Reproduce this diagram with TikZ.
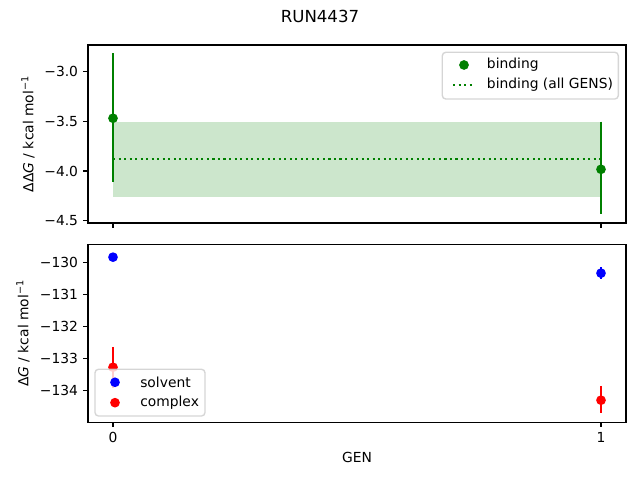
\documentclass[tikz,border=0pt]{standalone}
\usepackage{fontspec}
\setmainfont{DejaVu Sans}
\usepackage{tikz}

\definecolor{mplgreen}{HTML}{008000}
\definecolor{mplblue}{HTML}{0000FF}
\definecolor{mplred}{HTML}{FF0000}
\definecolor{legendedge}{HTML}{CCCCCC}

\tikzset{
  dot/.style={circle, fill=#1, inner sep=0pt, minimum size=7bp},
  errbar/.style={line width=1.5bp, #1},
  spine/.style={line width=0.8bp},
  tickmark/.style={line width=0.8bp},
  ticklabel/.style={inner sep=0pt},
  legendbox/.style={draw=legendedge, fill=white, opacity=0.8, rounded corners=2.5bp, line width=1bp},
  legendtext/.style={anchor=west, inner sep=0pt},
  mpldotted/.style={line width=1.5bp, dash pattern=on 1.5bp off 2.475bp},
}

\begin{document}
\begin{tikzpicture}[x=0.01in, y=0.01in, font=\fontsize{10}{12}\selectfont]
      \useasboundingbox (0,0) rectangle (640,480);
      \node (title) at (320,464) {\fontsize{12}{14}\selectfont RUN4437};

      % upper panel
      \begin{scope}[shift={(113,706.2)}, xscale=488, yscale=99.3]
        \fill [mplgreen, opacity=0.2] (0,-3.503) rectangle (1,-4.265);
        \draw [mplgreen, mpldotted] (0,-3.882) -- (1,-3.882);
        \draw [errbar=mplgreen] (0,-2.815) -- (0,-4.108);
        \draw [errbar=mplgreen] (1,-3.503) -- (1,-4.430);
        \node [dot=mplgreen] (bind0) at (0,-3.469) {};
        \node [dot=mplgreen] (bind1) at (1,-3.983) {};
      \end{scope}
      \draw [spine] (88,257) rectangle (626,435);
      \foreach \y/\lab [count=\i] in {408.3/−3.0, 358.65/−3.5, 309.0/−4.0, 259.35/−4.5} {
        \draw [tickmark] (88,\y) -- (83.14,\y);
        \node [ticklabel, anchor=east] (topy\i) at (78.3,\y) {\lab};
      }
      \draw [tickmark] (113,257) -- (113,252.14);
      \draw [tickmark] (601,257) -- (601,252.14);
      \node [rotate=90] (toplabel) at (28,346) {ΔΔ\textit{G} / kcal mol\textsuperscript{−1}};

      % upper legend
      \draw [legendbox] (442.3,381) rectangle (618.3,427.7);
      \node [dot=mplgreen] (legbind) at (464,415) {};
      \node [legendtext] (legbindtext) at (486.7,415) {binding};
      \draw [mplgreen, mpldotted] (453,395) -- (475,395);
      \node [legendtext] (legalltext) at (486.7,395) {binding (all GENS)};

      % lower panel
      \begin{scope}[shift={(113,4377.7)}, xscale=488, yscale=32]
        \draw [errbar=mplblue] (1,-130.16) -- (1,-130.52);
        \draw [errbar=mplred] (0,-132.64) -- (0,-133.92);
        \draw [errbar=mplred] (1,-133.86) -- (1,-134.72);
        \node [dot=mplblue] (solv0) at (0,-129.84) {};
        \node [dot=mplblue] (solv1) at (1,-130.34) {};
        \node [dot=mplred] (comp0) at (0,-133.28) {};
        \node [dot=mplred] (comp1) at (1,-134.31) {};
      \end{scope}
      \draw [spine] (88,57.7) rectangle (626,235.7);
      \foreach \y/\lab [count=\i] in {217.7/−130, 185.7/−131, 153.7/−132, 121.7/−133, 89.7/−134} {
        \draw [tickmark] (88,\y) -- (83.14,\y);
        \node [ticklabel, anchor=east] (boty\i) at (78.3,\y) {\lab};
      }
      \foreach \x/\lab in {113/0, 601/1} {
        \draw [tickmark] (\x,57.7) -- (\x,52.84);
        \node [ticklabel] (botx\lab) at (\x,42.7) {\lab};
      }
      \node (xlabel) at (357,23) {GEN};
      \node [rotate=90] (botlabel) at (23,146.7) {Δ\textit{G} / kcal mol\textsuperscript{−1}};

      % lower legend
      \draw [legendbox] (95,64) rectangle (205,110.7);
      \node [dot=mplblue] (legsolv) at (115,97.7) {};
      \node [legendtext] (legsolvtext) at (140,97.7) {solvent};
      \node [dot=mplred] (legcomp) at (115,77.3) {};
      \node [legendtext] (legcomptext) at (140,77.3) {complex};
    \end{tikzpicture}
\end{document}
